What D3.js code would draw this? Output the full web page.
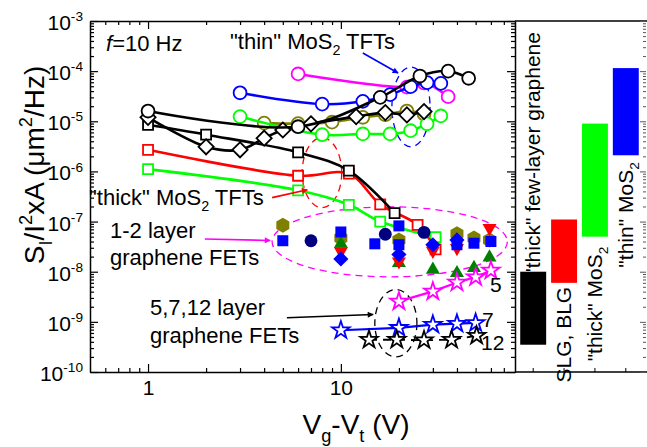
<!DOCTYPE html>
<html>
<head>
<meta charset="utf-8">
<script src="https://cdn.jsdelivr.net/npm/d3@7"></script>
<style>
  body { margin: 0; background: #fff; }
  svg { font-family: "Liberation Sans", Arial, sans-serif; }
</style>
</head>
<body>
<div id="chart"></div>
<script>
// ---- data: [Vg-Vt (V), S_I/I^2 x A (um^2/Hz)] ----

// MoS2 TFT curves
const blackCircles   = [[1, 1.6e-5], [6, 7.8e-6], [16, 3e-5], [25.7, 8e-5], [36, 1e-4], [46, 7.2e-5]];
const magentaCircles = [[6, 8.8e-5], [22, 4.8e-5], [27, 5.8e-5], [36, 3.1e-5]];
const blueCircles    = [[3, 3.7e-5], [8, 2.2e-5], [13, 2.5e-5], [18, 3.4e-5], [23, 4.9e-5], [28, 5.9e-5], [33, 5.7e-5]];
const greenCircles   = [[3, 1.24e-5], [8, 5.4e-6], [13, 5.6e-6], [18, 5.6e-6], [23, 6.5e-6], [28, 8.9e-6], [33, 1.28e-5]];
const oliveCircles   = [[4, 9.2e-6], [6, 9e-6], [9, 9.6e-6], [13, 1.2e-5], [17, 1.35e-5], [22, 1.6e-5], [27, 1.4e-5]];
const blackDiamonds  = [[1, 1.2e-5], [2, 3.1e-6], [3, 2.7e-6], [4, 4.6e-6], [5, 6.7e-6], [7, 8.9e-6], [12, 1.24e-5], [17, 1.49e-5], [22, 1.34e-5], [27, 1.56e-5]];
const blackSquares   = [[1, 8.5e-6], [2, 5.4e-6], [6, 2.4e-6], [11, 1.04e-6], [19, 1.48e-7]];
const redSquares     = [[1, 2.7e-6], [6, 8.2e-7], [11, 9e-7], [16, 2.2e-7], [25, 8.6e-8], [31, 2.8e-8]];
const greenSquares   = [[1, 1.11e-6], [6, 4.2e-7], [11, 2.16e-7], [16, 1.0e-7], [31, 4.9e-8]];

// 1-2 layer graphene FETs (scatter)
const oliveHexagons  = [[5, 8.4e-8], [10, 4.7e-8], [20, 4.3e-8], [40, 5.7e-8], [49, 4.7e-8], [59, 4.3e-8]];
const greenTriangles = [[10, 3.6e-8], [20, 1.5e-8], [30, 1.1e-8], [40, 9.4e-9], [49, 1.19e-8], [59, 1.93e-8]];
const redTriangles   = [[10, 2.54e-8], [20, 1.6e-8], [30, 2.6e-8], [40, 2.96e-8], [59, 7.4e-8]];
const navyCircles    = [[7, 4.15e-8], [17, 5.6e-8], [27, 6.1e-8]];
const blueSquares    = [[5, 4.15e-8], [10, 6.2e-8], [15, 3.6e-8], [20, 8.2e-8], [20, 3.45e-8], [40, 3.45e-8], [49, 3.7e-8], [60, 4.0e-8]];
const blueDiamonds   = [[10, 1.8e-8], [20, 2.2e-8], [30, 3.45e-8], [40, 4.3e-8]];

// 5, 7, 12 layer graphene FETs
const stars5  = [[20, 2.56e-9], [30, 4.05e-9], [40, 6.1e-9], [50, 7.8e-9], [60, 1.06e-8]];
const stars7  = [[10, 6.8e-10], [20, 7.6e-10], [30, 8.8e-10], [40, 9.2e-10], [50, 9.5e-10]];
const stars12 = [[14, 4.4e-10], [19.5, 4.4e-10], [27, 4.3e-10], [37.5, 4.4e-10], [50.6, 5.3e-10]];
const starLabels = ["5", "7", "12"];

// right panel: noise ranges per material
const barCats = ['"thick" few-layer graphene', "SLG, BLG", '"thick" MoS2', '"thin" MoS2'];
const barLow  = [3.5e-10, 6e-9, 5e-8, 2.1e-6];
const barHigh = [1e-8, 1.1e-7, 9e-6, 1.15e-4];

// axis ticks
const xMajor = [1, 10];
const xMinor = [0.6, 0.7, 0.8, 0.9, 2, 3, 4, 5, 6, 7, 8, 9, 20, 30, 40, 50, 60, 70];
const yExp = [-10, -9, -8, -7, -6, -5, -4, -3];

// annotation ellipses [x0, x1, y0, y1] and arrows [x0, y0, x1, y1], in data units
const ellThin  = [18.4, 29, 3.1e-6, 1.21e-4];
const ellThick = [6.3, 10.1, 1.9e-7, 4.7e-6];
const ellGr12  = [4.4, 73, 7.9e-9, 1.97e-7];
const ellGr5   = [15, 24.8, 2.0e-10, 4.4e-9];
const arrThin  = [13, 2.3e-4, 19.8, 9.2e-5];
const arrThick = [4.4, 3.0e-7, 6.7, 4.3e-7];
const arrGr12  = [1.97, 4.5e-8, 4.3, 4.2e-8];
const arrGr5   = [5.25, 1.21e-9, 14.7, 1.4e-9];

// ---- layout ----
const W = 647, H = 447;
const plot = {left: 90, right: 515, top: 21, bottom: 372};
const panel = {left: 515, right: 646};

const svg = d3.select("#chart").append("svg")
  .attr("width", W).attr("height", H);

const x = d3.scaleLog().domain([0.5, 80]).range([plot.left, plot.right]);
const y = d3.scaleLog().domain([1e-10, 1e-3]).range([plot.bottom, plot.top]);

const defs = svg.append("defs");
["#0000ff", "#ff0000", "#ff00ff", "#000000"].forEach(c => {
  defs.append("marker")
    .attr("id", "ah" + c.slice(1))
    .attr("viewBox", "0 0 10 10").attr("refX", 9).attr("refY", 5)
    .attr("markerWidth", 7).attr("markerHeight", 6)
    .attr("markerUnits", "userSpaceOnUse")
    .attr("orient", "auto")
    .append("path").attr("d", "M0,0L10,5L0,10z").attr("fill", c);
});

// rich text helper (sub/superscripts)
function rich(sel, parts, size) {
  let shift = 0;
  parts.forEach(p => {
    const txt = Array.isArray(p) ? p[0] : p;
    const kind = Array.isArray(p) ? p[1] : null;
    const target = kind === "sub" ? size * 0.28 : kind === "sup" ? -size * 0.42 : 0;
    const ts = sel.append("tspan").text(txt).attr("dy", target - shift);
    if (kind) ts.attr("font-size", size * 0.65);
    shift = target;
  });
}

// ---- axes of main plot ----
const yTickVals = [];
yExp.forEach(e => {
  yTickVals.push(Math.pow(10, e));
  if (e < -3) for (let k = 2; k <= 9; k++) yTickVals.push(k * Math.pow(10, e));
});
const isMajorY = v => Math.abs(Math.log10(v) - Math.round(Math.log10(v))) < 1e-6;

function styleAxis(g, majorFn, len, dir) {
  g.select(".domain").attr("stroke-width", 1.5);
  g.selectAll(".tick line").attr("stroke-width", 1.2)
    .each(function(d) {
      const l = d3.select(this);
      const L = majorFn(d) ? len * 2 : len;
      if (dir === "x") l.attr("y2", l.attr("y2") < 0 ? -L : L);
      else l.attr("x2", l.attr("x2") < 0 ? -L : L);
    });
}

const xTickVals = xMajor.concat(xMinor);
const gx = svg.append("g").attr("transform", `translate(0,${plot.bottom})`)
  .call(d3.axisBottom(x).tickValues(xTickVals).tickSizeInner(-4).tickSizeOuter(0).tickPadding(8)
    .tickFormat(d => xMajor.includes(d) ? d : ""));
styleAxis(gx, d => xMajor.includes(d), 4, "x");
gx.selectAll("text").attr("font-size", 21).attr("fill", "#000").attr("font-family", "Liberation Sans, Arial, sans-serif");

const gxt = svg.append("g").attr("transform", `translate(0,${plot.top})`)
  .call(d3.axisTop(x).tickValues(xTickVals).tickSizeInner(-4).tickSizeOuter(0).tickFormat(""));
styleAxis(gxt, d => xMajor.includes(d), 4, "x");

const gy = svg.append("g").attr("transform", `translate(${plot.left},0)`)
  .call(d3.axisLeft(y).tickValues(yTickVals).tickSizeInner(-4).tickSizeOuter(0).tickFormat(""));
styleAxis(gy, isMajorY, 4, "y");

const gyr = svg.append("g").attr("transform", `translate(${plot.right},0)`)
  .call(d3.axisRight(y).tickValues(yTickVals).tickSizeInner(-4).tickSizeOuter(0).tickFormat(""));
styleAxis(gyr, isMajorY, 4, "y");

// y tick labels 10^n
yExp.forEach(e => {
  const t = svg.append("text")
    .attr("x", 83).attr("y", y(Math.pow(10, e)) + 9)
    .attr("text-anchor", "end").attr("font-size", 21);
  rich(t, ["10", ["-" + Math.abs(e), "sup"]], 21);
});

// axis titles
const yl = svg.append("text")
  .attr("transform", "translate(44,165) rotate(-90)")
  .attr("text-anchor", "middle").attr("font-size", 28);
rich(yl, ["S", ["I", "sub"], "/I", ["2", "sup"], "xA (\u03bcm", ["2", "sup"], "/Hz)"], 28);

const xl = svg.append("text")
  .attr("x", 356).attr("y", 434)
  .attr("text-anchor", "middle").attr("font-size", 28);
rich(xl, ["V", ["g", "sub"], "-V", ["t", "sub"], " (V)"], 28);

// ---- right panel ----
const xb = d3.scaleBand().domain(barCats).range([519, 640]).paddingInner(0.16).paddingOuter(0.04);
const barColors = ["#000000", "#ff0000", "#00ff00", "#0000ff"];

svg.append("line").attr("x1", panel.left).attr("x2", W).attr("y1", plot.top).attr("y2", plot.top)
  .attr("stroke", "#000").attr("stroke-width", 1.5);
const gpb = svg.append("g").attr("transform", `translate(0,${plot.bottom})`)
  .call(d3.axisBottom(xb).tickSizeInner(-4).tickSizeOuter(0).tickFormat(""));
gpb.select(".domain").attr("stroke-width", 1.5).attr("d", `M${panel.left},0H${W}`);
const gpr = svg.append("g").attr("transform", `translate(${panel.right},0)`)
  .call(d3.axisRight(y).tickValues(yTickVals).tickSizeInner(-3).tickSizeOuter(0).tickFormat(""));
gpr.select(".domain").remove();
gpr.selectAll(".tick line").attr("stroke", "#555").each(function(d) {
  if (isMajorY(d)) d3.select(this).attr("x2", -6);
});

svg.append("g").selectAll("rect").data(barCats).join("rect")
  .attr("x", d => xb(d))
  .attr("width", xb.bandwidth())
  .attr("y", (d, i) => y(barHigh[i]))
  .attr("height", (d, i) => y(barLow[i]) - y(barHigh[i]))
  .attr("fill", (d, i) => barColors[i]);

const labelGap = [4, 4, 10, 7];
barCats.forEach((c, i) => {
  const cx = xb(c) + xb.bandwidth() / 2 + 7;
  const above = i === 0;
  const py = above ? y(barHigh[i]) + labelGap[i] : y(barLow[i]) + labelGap[i];
  const t = svg.append("text")
    .attr("transform", `translate(${cx},${py}) rotate(-90)`)
    .attr("text-anchor", above ? "start" : "end")
    .attr("font-size", 21);
  if (c.endsWith("MoS2")) rich(t, [c.slice(0, -1), ["2", "sub"]], 21);
  else t.text(c);
});

// ---- annotations (dashed ellipses, arrows) ----
function ellipse(box, color) {
  const x0 = x(box[0]), x1 = x(box[1]), y0 = y(box[2]), y1 = y(box[3]);
  svg.append("ellipse")
    .attr("cx", (x0 + x1) / 2).attr("cy", (y0 + y1) / 2)
    .attr("rx", Math.abs(x1 - x0) / 2).attr("ry", Math.abs(y1 - y0) / 2)
    .attr("fill", "none").attr("stroke", color).attr("stroke-width", 1.3)
    .attr("stroke-dasharray", "7,5");
}
function arrow(a, color) {
  svg.append("line")
    .attr("x1", x(a[0])).attr("y1", y(a[1])).attr("x2", x(a[2])).attr("y2", y(a[3]))
    .attr("stroke", color).attr("stroke-width", 1.6)
    .attr("marker-end", `url(#ah${color.slice(1)})`);
}
ellipse(ellThin, "#0000ff");
ellipse(ellThick, "#ff0000");
ellipse(ellGr12, "#ff00ff");
ellipse(ellGr5, "#000000");

// ---- series ----
const sym = {
  circle: d3.symbol(d3.symbolCircle, 130),
  square: d3.symbol(d3.symbolSquare, 100),
  diamond: d3.symbol(d3.symbolSquare, 115),
  triangle: d3.symbol(d3.symbolTriangle, 85),
  star: d3.symbol(d3.symbolStar, 95),
  bigSquare: d3.symbol(d3.symbolSquare, 121)
};
function hexagon(r) {
  return d3.range(6).map(i => {
    const a = Math.PI / 3 * i + Math.PI / 6;
    return [r * Math.cos(a), r * Math.sin(a)];
  }).map((p, i) => (i ? "L" : "M") + p[0].toFixed(2) + "," + p[1].toFixed(2)).join("") + "Z";
}

function series(data, color, shape, opts = {}) {
  const line = d3.line().x(d => x(d[0])).y(d => y(d[1]))
    .curve(opts.linear ? d3.curveLinear : d3.curveCatmullRom.alpha(0.5));
  svg.append("path").datum(data).attr("d", line)
    .attr("fill", "none").attr("stroke", color)
    .attr("stroke-width", opts.lw || 2.6)
    .attr("stroke-dasharray", opts.dash || null);
  markers(data, color, shape, false, opts.rot || 0);
}
function markers(data, color, shape, filled, rot = 0) {
  svg.append("g").selectAll("path").data(data).join("path")
    .attr("d", shape === "hex" ? hexagon(7.5) : sym[shape]())
    .attr("transform", d => `translate(${x(d[0])},${y(d[1])}) rotate(${rot})`)
    .attr("fill", filled ? color : "#fff")
    .attr("stroke", color)
    .attr("stroke-width", filled ? 0 : 1.8);
}

series(greenSquares, "#00ff00", "square");
series(redSquares, "#ff0000", "square");
series(blackSquares, "#000000", "square");
series(oliveCircles, "#808000", "circle");
series(greenCircles, "#00ff00", "circle");
series(magentaCircles, "#ff00ff", "circle");
series(blueCircles, "#0000ff", "circle");
series(blackDiamonds, "#000000", "diamond", {rot: 45});
series(blackCircles, "#000000", "circle");

markers(oliveHexagons, "#808000", "hex", true);
markers(greenTriangles, "#008000", "triangle", true);
markers(redTriangles, "#ff0000", "triangle", true, 180);
markers(navyCircles, "#000080", "circle", true);
markers(blueSquares, "#0000ff", "bigSquare", true);
markers(blueDiamonds, "#0000ff", "diamond", true, 45);

series(stars5, "#ff00ff", "star", {linear: true, lw: 2.2});
series(stars7, "#0000ff", "star", {linear: true, lw: 2.2});
series(stars12, "#000000", "star", {linear: true, lw: 1.8, dash: "8,6"});

// layer-count labels next to the last star of each series
const starLabelX = [490, 482, 481];
const starLabelDy = [22, 4, 14];
[stars5, stars7, stars12].forEach((s, i) => {
  const last = s[s.length - 1];
  svg.append("text")
    .attr("x", starLabelX[i])
    .attr("y", y(last[1]) + starLabelDy[i])
    .attr("font-size", 21).text(starLabels[i]);
});

arrow(arrThin, "#0000ff");
arrow(arrThick, "#ff0000");
arrow(arrGr12, "#ff00ff");
arrow(arrGr5, "#000000");

// ---- text labels ----
const fHz = svg.append("text").attr("x", 106).attr("y", 51).attr("font-size", 22);
fHz.append("tspan").attr("font-style", "italic").text("f");
fHz.append("tspan").text("=10 Hz");

const thin = svg.append("text").attr("x", 230).attr("y", 49).attr("font-size", 22);
rich(thin, ['"thin" MoS', ["2", "sub"], " TFTs"], 22);

const thick = svg.append("text").attr("x", 89).attr("y", 205).attr("font-size", 22);
rich(thick, ['"thick" MoS', ["2", "sub"], " TFTs"], 22);

svg.append("text").attr("x", 110).attr("y", 238).attr("font-size", 22).text("1-2 layer");
svg.append("text").attr("x", 110).attr("y", 265).attr("font-size", 22).text("graphene FETs");
svg.append("text").attr("x", 150).attr("y", 315).attr("font-size", 22).text("5,7,12 layer");
svg.append("text").attr("x", 150).attr("y", 343).attr("font-size", 22).text("graphene FETs");
</script>
</body>
</html>
